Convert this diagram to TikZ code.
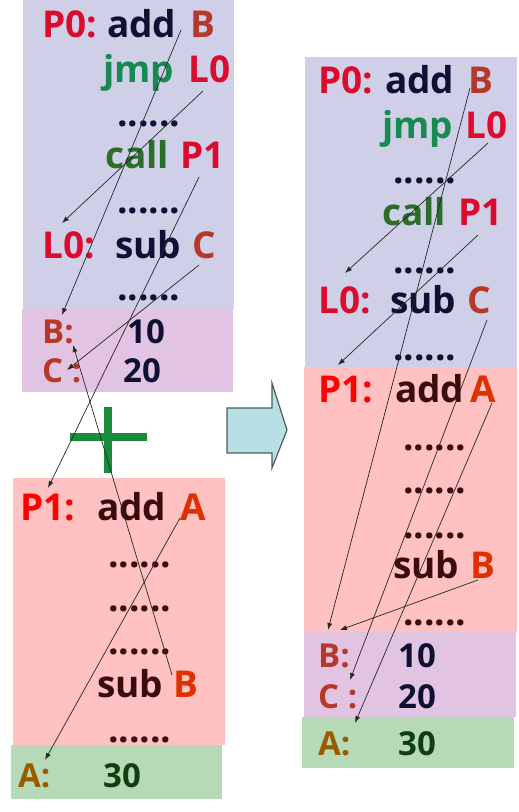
\documentclass[tikz,border=0pt]{standalone}
\usepackage{fontspec}
\setmainfont{Open Sans}
\usetikzlibrary{arrows.meta}
\definecolor{boxLav}{HTML}{CFD0E8}
\definecolor{boxData}{HTML}{E1C4E1}
\definecolor{boxPink}{HTML}{FFC1C1}
\definecolor{boxGreen}{HTML}{B5DAB5}
\definecolor{arrFill}{HTML}{B8DFE3}
\definecolor{arrEdge}{HTML}{505A5A}
\definecolor{plusGreen}{HTML}{1A8C3A}
\definecolor{tRed}{HTML}{DC0A2D}
\definecolor{tNavy}{HTML}{101035}
\definecolor{tBrown}{HTML}{B5382A}
\definecolor{tJmp}{HTML}{168A50}
\definecolor{tCall}{HTML}{2A6E2A}
\definecolor{tLabel}{HTML}{FF0000}
\definecolor{tDark}{HTML}{3A0C10}
\definecolor{tOrange}{HTML}{E03000}
\definecolor{tOchre}{HTML}{9A5A00}
\definecolor{tForest}{HTML}{0F3F10}
\begin{document}
\begin{tikzpicture}[
  x=1pt,y=-1pt,
  txt/.style={anchor=base west,inner sep=0pt,
    font=\fontsize{37}{40}\selectfont\bfseries},
  dat/.style={txt,font=\fontsize{33}{36}\selectfont\bfseries},
  arr/.style={-{Latex[length=7pt,width=5pt]},line width=0.7pt,black!85}]
\useasboundingbox (0,0) rectangle (519,812);
% memory blocks
\fill[boxLav]   (23,0)   rectangle (234,309);
\fill[boxData]  (22,309) rectangle (233,392);
\fill[boxPink]  (13,478) rectangle (225,745);
\fill[boxGreen] (11,745) rectangle (222,799);
\fill[boxLav]   (305,57)  rectangle (517,367);
\fill[boxPink]  (304,367) rectangle (517,632);
\fill[boxData]  (304,632) rectangle (516,717);
\fill[boxGreen] (302,717) rectangle (514,768);
% plus sign and block arrow
\draw[plusGreen,line width=8pt] (70,437) -- (147,437) (108,407) -- (108,473);
\draw[arrEdge,fill=arrFill,line width=1.2pt]
  (227,408) -- (272,408) -- (272,383) -- (287,430) -- (272,468)
  -- (272,453) -- (227,453) -- cycle;
% left: P0
\node[txt,text=tRed]   (aP0)    at (42,37)  {P0:};
\node[txt,text=tNavy]  (aAdd)   at (107,37) {add};
\node[txt,text=tBrown] (aB)     at (190,37) {B};
\node[txt,text=tJmp]   (aJmp)   at (103,82) {jmp};
\node[txt,text=tRed]   (aL0)    at (188,82) {L0};
\node[txt,text=tNavy]  (aDot1)  at (117,126) {......};
\node[txt,text=tCall]  (aCall)  at (105,168) {call};
\node[txt,text=tRed]   (aP1)    at (180,168) {P1};
\node[txt,text=tNavy]  (aDot2)  at (117,213) {......};
\node[txt,text=tRed]   (aL0lab) at (42,258) {L0:};
\node[txt,text=tNavy]  (aSub)   at (115,258) {sub};
\node[txt,text=tBrown] (aC)     at (192,258) {C};
\node[txt,text=tNavy]  (aDot3)  at (117,300) {......};
\node[dat,text=tBrown] (aBlab)  at (42,343) {B:};
\node[dat,text=tNavy]  (a10)    at (127,343) {10};
\node[dat,text=tBrown] (aClab)  at (42,382) {C :};
\node[dat,text=tNavy]  (a20)    at (123,382) {20};
% left: P1
\node[txt,text=tLabel]  (bP1lab) at (20,520) {P1:};
\node[txt,text=tDark]   (bAdd)   at (97,520) {add};
\node[txt,text=tOrange] (bA)     at (180,520) {A};
\node[txt,text=tDark]   (bDot1)  at (108,567) {......};
\node[txt,text=tDark]   (bDot2)  at (108,611) {......};
\node[txt,text=tDark]   (bDot3)  at (108,654) {......};
\node[txt,text=tDark]   (bSub)   at (97,697) {sub};
\node[txt,text=tOrange] (bB)     at (173,697) {B};
\node[txt,text=tDark]   (bDot4)  at (108,742) {......};
\node[dat,text=tOchre]  (bAlab)  at (18,787) {A:};
\node[dat,text=tForest] (b30)    at (103,787) {30};
% right: linked program
\node[txt,text=tRed]    (cP0)    at (318,93)  {P0:};
\node[txt,text=tNavy]   (cAdd)   at (385,93)  {add};
\node[txt,text=tBrown]  (cB)     at (468,93)  {B};
\node[txt,text=tJmp]    (cJmp)   at (382,138) {jmp};
\node[txt,text=tRed]    (cL0)    at (465,138) {L0};
\node[txt,text=tNavy]   (cDot1)  at (393,183) {......};
\node[txt,text=tCall]   (cCall)  at (382,225) {call};
\node[txt,text=tRed]    (cP1)    at (458,225) {P1};
\node[txt,text=tNavy]   (cDot2)  at (393,273) {......};
\node[txt,text=tRed]    (cL0lab) at (318,313) {L0:};
\node[txt,text=tNavy]   (cSub)   at (390,313) {sub};
\node[txt,text=tBrown]  (cC)     at (467,313) {C};
\node[txt,text=tNavy]   (cDot3)  at (393,360) {......};
\node[txt,text=tLabel]  (cP1lab) at (318,402) {P1:};
\node[txt,text=tDark]   (cAdd2)  at (395,402) {add};
\node[txt,text=tOrange] (cA)     at (470,402) {A};
\node[txt,text=tDark]   (cDot4)  at (403,450) {......};
\node[txt,text=tDark]   (cDot5)  at (403,493) {......};
\node[txt,text=tDark]   (cDot6)  at (403,538) {......};
\node[txt,text=tDark]   (cSub2)  at (393,578) {sub};
\node[txt,text=tOrange] (cB2)    at (470,578) {B};
\node[txt,text=tDark]   (cDot7)  at (403,625) {......};
\node[dat,text=tBrown]  (cBlab)  at (318,667) {B:};
\node[dat,text=tNavy]   (c10)    at (398,667) {10};
\node[dat,text=tBrown]  (cClab)  at (318,708) {C :};
\node[dat,text=tNavy]   (c20)    at (398,708) {20};
\node[dat,text=tOchre]  (cAlab)  at (318,755) {A:};
\node[dat,text=tForest] (c30)    at (398,755) {30};
% references, left
\draw[arr] ([shift={(-9,-7)}]aB.base west)  -- ([shift={(20,-28)}]aBlab.base west);
\draw[arr] ([shift={(15,9)}]aL0.base west)  -- ([shift={(20,-35)}]aL0lab.base west);
\draw[arr] ([shift={(19,9)}]aP1.base west)  -- ([shift={(28,-32)}]bP1lab.base west);
\draw[arr] ([shift={(7,7)}]aC.base west)    -- ([shift={(25,-12)}]aClab.base west);
\draw[arr] ([shift={(0,-2)}]bA.base west)   -- ([shift={(27,-27)}]bAlab.base west);
\draw[arr] ([shift={(-1,-22)}]bB.base west) -- ([shift={(31,2)}]aBlab.base west);
% references, right
\draw[arr] ([shift={(2,-5)}]cB.base west)   -- ([shift={(10,-37)}]cBlab.base west);
\draw[arr] ([shift={(23,5)}]cL0.base west)  -- ([shift={(27,-40)}]cL0lab.base west);
\draw[arr] ([shift={(20,10)}]cP1.base west) -- ([shift={(20,-37)}]cP1lab.base west);
\draw[arr] ([shift={(20,7)}]cC.base west)   -- ([shift={(32,-28)}]cClab.base west);
\draw[arr] ([shift={(22,1)}]cA.base west)   -- ([shift={(37,-32)}]cAlab.base west);
\draw[arr] ([shift={(8,2)}]cB2.base west)   -- ([shift={(22,-37)}]cBlab.base west);
\end{tikzpicture}
\end{document}
